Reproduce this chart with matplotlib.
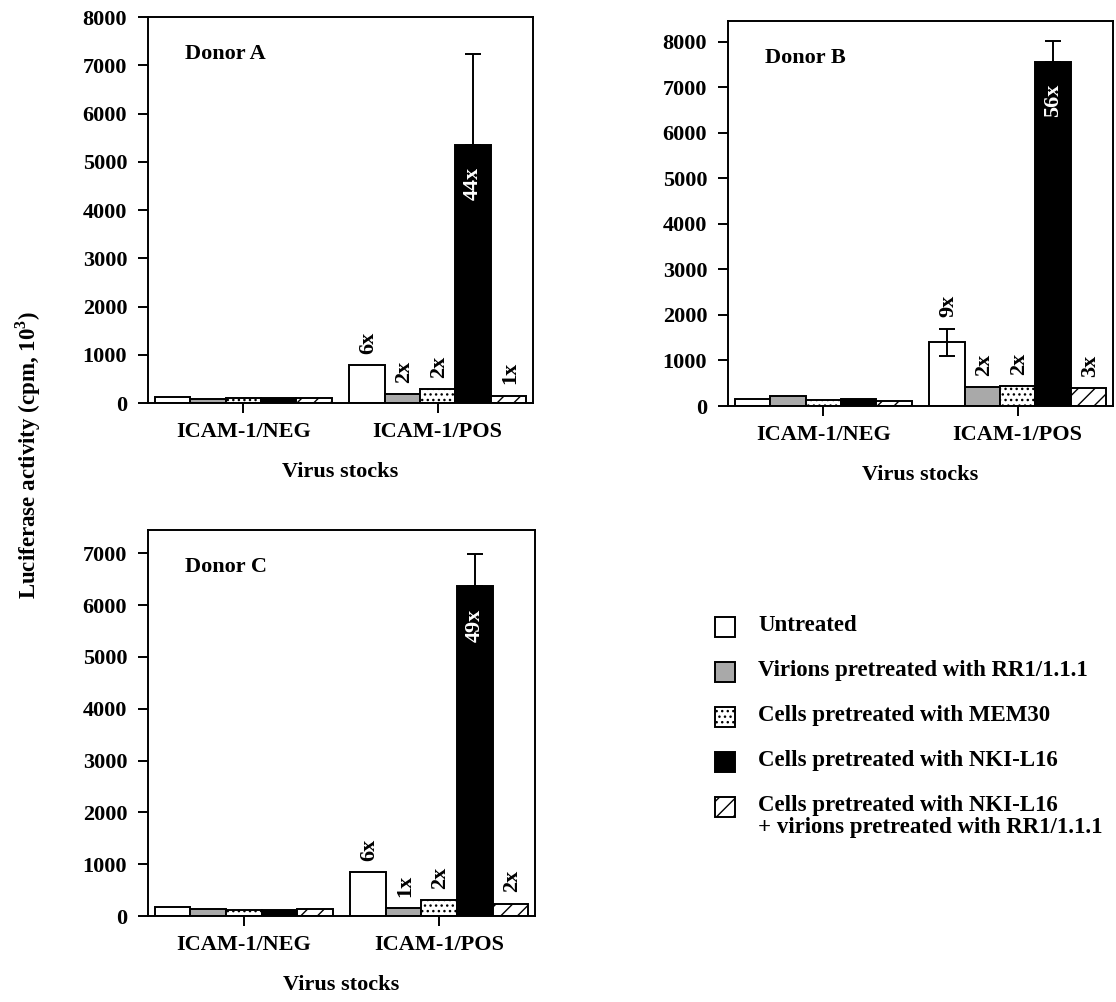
import numpy as np
import matplotlib
matplotlib.use("Agg")
import matplotlib.pyplot as plt
from matplotlib.patches import Rectangle

plt.rcParams['font.family'] = ['Liberation Serif', 'DejaVu Serif']
plt.rcParams['font.weight'] = 'bold'
plt.rcParams['mathtext.fontset'] = 'custom'
plt.rcParams['mathtext.rm'] = 'Liberation Serif:bold'
plt.rcParams['mathtext.bf'] = 'Liberation Serif:bold'
plt.rcParams['hatch.linewidth'] = 1.0

# data (luciferase activity, cpm x 10^3)
groups = ["ICAM-1/NEG", "ICAM-1/POS"]
treatments = ["Untreated",
              "Virions pretreated with RR1/1.1.1",
              "Cells pretreated with MEM30",
              "Cells pretreated with NKI-L16",
              "Cells pretreated with NKI-L16\n+ virions pretreated with RR1/1.1.1"]

a_neg = [120, 80, 110, 110, 110]
a_pos = [790, 190, 280, 5350, 155]
a_err_up = [0, 0, 0, 1880, 0]
a_err_down = [0, 0, 0, 0, 0]
a_folds = ["6x", "2x", "2x", "44x", "1x"]

b_neg = [160, 210, 125, 145, 100]
b_pos = [1400, 420, 430, 7560, 390]
b_err_up = [300, 0, 0, 460, 0]
b_err_down = [300, 0, 0, 0, 0]
b_folds = ["9x", "2x", "2x", "56x", "3x"]

c_neg = [175, 130, 125, 125, 135]
c_pos = [850, 160, 300, 6360, 240]
c_err_up = [0, 0, 0, 620, 0]
c_err_down = [0, 0, 0, 0, 0]
c_folds = ["6x", "1x", "2x", "49x", "2x"]

faces = ['white', '#a9a9a9', 'white', 'black', 'white']
hatches = [None, None, '...', None, '//']

FS = 16


def draw_panel(ax, neg, pos, up, down, folds, ymax, ytop, title):
    width = 0.182
    x = np.arange(len(groups))
    offs = (np.arange(5) - 2) * width
    for i in range(5):
        ax.bar(x + offs[i], [neg[i], pos[i]], width, color=faces[i],
               edgecolor='black', hatch=hatches[i], linewidth=1.4, zorder=2)
        if up[i] or down[i]:
            ax.errorbar(x[1] + offs[i], pos[i], yerr=[[down[i]], [up[i]]],
                        fmt='none', ecolor='black', elinewidth=1.4,
                        capsize=6, capthick=1.4, zorder=3)
        if i == 3:
            ax.annotate(folds[i], (x[1] + offs[i], pos[i]), xytext=(0, -16),
                        textcoords='offset points', rotation=90, ha='center',
                        va='top', color='white', fontsize=FS, fontweight='bold')
        else:
            ax.annotate(folds[i], (x[1] + offs[i], pos[i] + up[i]), xytext=(1, 8),
                        textcoords='offset points', rotation=90, ha='center',
                        va='bottom', fontsize=FS, fontweight='bold')
    ax.set_xlim(-0.49, 1.49)
    ax.set_ylim(0, ymax)
    ax.set_yticks(np.arange(0, ytop + 1, 1000))
    ax.set_xticks(x)
    ax.set_xticklabels(groups)
    ax.tick_params(axis='both', direction='out', length=7, width=1.4,
                   labelsize=FS)
    ax.tick_params(axis='y', pad=8)
    ax.tick_params(axis='x', pad=7)
    for lab in ax.get_xticklabels() + ax.get_yticklabels():
        lab.set_fontweight('bold')
    for s in ax.spines.values():
        s.set_linewidth(1.4)
    ax.set_xlabel("Virus stocks", fontsize=FS, fontweight='bold', labelpad=14)
    ax.text(0.096, 0.905, title, transform=ax.transAxes, fontsize=FS,
            fontweight='bold', va='center', ha='left')


fig = plt.figure(figsize=(11.16, 10.02), dpi=100)

ax_a = fig.add_axes([148 / 1116, 1 - 403 / 1002, 385 / 1116, 386 / 1002])
ax_b = fig.add_axes([728 / 1116, 1 - 406 / 1002, 385 / 1116, 385 / 1002])
ax_c = fig.add_axes([148 / 1116, 1 - 916 / 1002, 387 / 1116, 386 / 1002])

draw_panel(ax_a, a_neg, a_pos, a_err_up, a_err_down, a_folds, 8000, 8000, "Donor A")
draw_panel(ax_b, b_neg, b_pos, b_err_up, b_err_down, b_folds, 8450, 8000, "Donor B")
draw_panel(ax_c, c_neg, c_pos, c_err_up, c_err_down, c_folds, 7450, 7000, "Donor C")

fig.text(28 / 1116, 1 - 455 / 1002, "Luciferase activity (cpm, 10$^{3}$)",
         rotation=90, ha='center', va='center', fontsize=FS + 0.5,
         fontweight='bold')

# legend drawn in pixel coordinates on an overlay
lg = fig.add_axes([0, 0, 1, 1], zorder=-1)
lg.set_xlim(0, 1116)
lg.set_ylim(1002, 0)
lg.axis('off')
rows = [627, 672, 717, 762, 807]
for i, name in enumerate(treatments):
    y = rows[i]
    lg.add_patch(Rectangle((715, y - 10), 20, 20, facecolor=faces[i],
                           edgecolor='black', hatch=hatches[i], linewidth=1.4))
    lg.text(758, y - 12, name, ha='left', va='top', fontsize=16.5,
            fontweight='bold', linespacing=1.05)

fig.savefig("out.png", dpi=100)
